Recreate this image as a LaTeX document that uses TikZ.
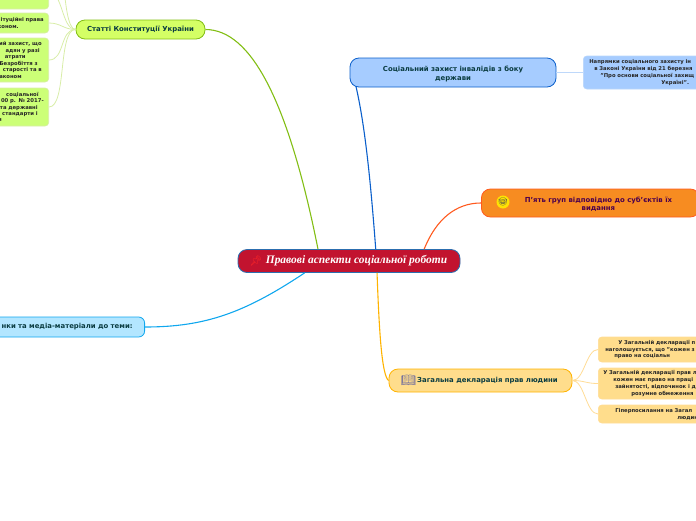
\documentclass[tikz,border=0pt]{standalone}
\usepackage{fontspec}
\setmainfont{DejaVu Sans}
\newfontfamily\rootfont{Liberation Serif}
\newfontfamily\emojifont{Noto Emoji}
\usepackage{tikz}
\usetikzlibrary{positioning}
\definecolor{rootred}{RGB}{194,19,47}
\definecolor{rootedge}{RGB}{44,110,175}
\definecolor{inktext}{RGB}{10,60,65}
\definecolor{greenfill}{RGB}{204,255,119}
\definecolor{greenmain}{RGB}{130,190,20}
\definecolor{greensoft}{RGB}{216,237,168}
\definecolor{bluefill}{RGB}{166,204,255}
\definecolor{bluemain}{RGB}{11,95,203}
\definecolor{bluesoft}{RGB}{190,216,250}
\definecolor{orangefill}{RGB}{247,140,33}
\definecolor{orangemain}{RGB}{255,90,31}
\definecolor{yellowfill}{RGB}{255,221,140}
\definecolor{yellowmain}{RGB}{255,179,0}
\definecolor{yellowsoft}{RGB}{255,220,150}
\definecolor{cyanfill}{RGB}{179,230,255}
\definecolor{cyanmain}{RGB}{16,167,238}
\newcommand{\ind}[1]{\rule{#1pt}{0pt}}
\begin{document}
\begin{tikzpicture}[
    x=1pt, y=-1pt,
    branch/.style={rectangle, rounded corners=9pt, line width=0.8pt, text=inktext, align=center,
        inner sep=0pt, font=\fontsize{6.9}{8.8}\selectfont\bfseries},
    leafleft/.style={rectangle, rounded corners=3.5pt, fill=greenfill, draw=greensoft, line width=0.6pt,
        anchor=east, inner sep=0pt, text width=90pt, align=right, text=black!85,
        font=\fontsize{5.3}{6.45}\selectfont\bfseries},
    leafright/.style={rectangle, rounded corners=3.5pt, line width=0.6pt,
        anchor=west, inner sep=0pt, text width=130pt, align=left, text=black!85,
        font=\fontsize{5.3}{6.75}\selectfont\bfseries},
    twig/.style={line width=0.8pt},
    limb/.style={line width=1.1pt},
]
    \useasboundingbox (0,0) rectangle (696,520);
    \clip (0,0) rectangle (696,520);

    % Root
    \node[branch, fill=rootred, draw=rootedge, minimum width=222pt, minimum height=23pt, text=white,
        font=\rootfont\fontsize{11.45}{13}\selectfont\bfseries\itshape] (root) at (349,261) {\ind{15}Правові аспекти соціальної роботи};
    \node[text=red!85!white, inner sep=0pt, font=\emojifont\fontsize{10}{10}\selectfont] (rootpin) at (256,261) {📌};

    % Green branch
    \node[branch, fill=greenfill!85!yellow, draw=greenmain, minimum width=129pt, minimum height=19pt] (statti) at (140.5,29.5) {Статті Конституції України};
    \draw[limb, greenmain] (root.159) .. controls +(-30,-150) and +(45,0) .. (statti.east);
    \node[leafleft, minimum height=34pt] (gzero) at (49,-8) {};
    \node[leafleft, minimum height=20pt] (gone) at (49,23) {ітуційні права\ind{5}\\коном.\ind{30}};
    \node[leafleft, minimum height=44pt] (gtwo) at (49,60) {ий захист, що\ind{7}\\адян у разі\ind{9}\\атрати\ind{23}\\Безробіття з\ind{11}\\старості та в\ind{7}\\аконом\ind{27}};
    \node[leafleft, minimum height=38pt] (gthree) at (49,107) {соціальної\ind{10}\\00 р. № 2017-\ind{5}\\та державні\ind{11}\\і стандарти і\ind{11}\\я\ind{47}};
    \coordinate (goff) at (50,-80);
    \draw[twig, greensoft] (statti.west) .. controls +(-14,0) and +(14,0) .. (gzero.east);
    \draw[twig, greensoft] (statti.west) .. controls +(-16,0) and +(16,0) .. (goff);
    \draw[twig, greensoft] (statti.west) .. controls +(-12,0) and +(12,0) .. (gone.east);
    \draw[twig, greensoft] (statti.west) .. controls +(-16,0) and +(16,0) .. (gtwo.east);
    \draw[twig, greensoft] (statti.west) .. controls +(-18,0) and +(18,0) .. (gthree.east);

    % Blue branch
    \node[branch, fill=bluefill, draw=bluemain, minimum width=206pt, minimum height=29pt] (zahyst) at (453,72.5) {\rule{0pt}{8pt}Соціальний захист інвалідів з боку\\держави};
    \coordinate (zahystfoot) at (356,86.5);
    \draw[limb, bluemain] (root.24) .. controls +(-6,-80) and +(8,35) .. (zahystfoot);
    \node[leafright, fill=bluefill, draw=bluesoft!80!bluefill, minimum height=33pt] (napryamky) at (583,72.5) {\ind{6}Напрямки соціального захисту ін\\\ind{11}в Законі України від 21 березня\\\ind{17}"Про основи соціальної захищ\\\ind{78}Україні".};
    \draw[twig, bluesoft] (zahyst.east) -- (napryamky.west);

    % Orange branch
    \node[branch, fill=orangefill, draw=orangemain, minimum width=218pt, minimum height=28pt, text=violet!60!black, anchor=west] (pyat) at (481,203) {\rule{0pt}{8pt}\ind{16}П'ять груп відповідно до суб'єктів їх\\\ind{16}видання};
    \node[circle, fill=yellow!85!orange, inner sep=0pt, minimum size=9pt, text=black!70, font=\emojifont\fontsize{8}{8}\selectfont] (pyaticon) at (503,202) {🤓};
    \draw[limb, orangemain] (root.9) .. controls +(12,-30) and +(-25,0) .. (pyat.west);

    % Yellow branch
    \node[branch, fill=yellowfill, draw=yellowmain, minimum width=183pt, minimum height=23pt] (deklar) at (480.5,380.5) {\ind{14}Загальна декларація прав людини};
    \node[text=blue!25!gray, inner sep=0pt, font=\emojifont\fontsize{12}{12}\selectfont] (deklaricon) at (408.5,380) {📖};
    \draw[limb, yellowmain] (root.-23) .. controls +(2,55) and +(-7,-5) .. (deklar.west);
    \node[leafright, fill=yellowfill, draw=yellowsoft, minimum height=25pt] (yone) at (598,349.5) {\ind{20}У Загальній декларації п\\\ind{7}наголошується, що "кожен з\\\ind{16}право на соціальн};
    \node[leafright, fill=yellowfill, draw=yellowsoft, minimum height=31pt] (ytwo) at (598,383.5) {\ind{5}У Загальній декларації прав л\\\ind{15}кожен має право на праці\\\ind{17}зайнятості, відпочинок і д\\\ind{33}розумне обмеження};
    \node[leafright, fill=yellowfill, draw=yellowsoft, minimum height=18pt] (ythree) at (598,414) {\ind{17}Гіперпосилання на Загал\\\ind{79}людин};
    \draw[twig, yellowsoft] (deklar.east) .. controls +(12,0) and +(-12,0) .. (yone.west);
    \draw[twig, yellowsoft] (deklar.east) .. controls +(12,0) and +(-12,0) .. (ytwo.west);
    \draw[twig, yellowsoft] (deklar.east) .. controls +(12,0) and +(-12,0) .. (ythree.west);

    % Cyan branch
    \node[branch, fill=cyanfill, draw=cyanmain, rounded corners=6pt, minimum width=190pt, minimum height=20pt, anchor=east, text width=190pt, align=right] (media) at (145,327) {нки та медіа-матеріали до теми:\ind{12}};
    \draw[limb, cyanmain] (root.195.3) .. controls +(-60,40) and +(60,0) .. (media.east);
\end{tikzpicture}
\end{document}
